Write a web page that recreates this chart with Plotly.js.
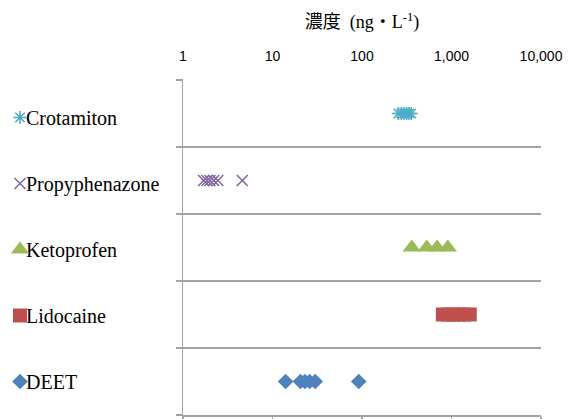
<!DOCTYPE html>
<html>
<head>
<meta charset="utf-8">
<script src="https://cdn.plot.ly/plotly-3.0.1.min.js"></script>
<style>
  html, body { margin: 0; padding: 0; background: #ffffff; }
  #chart { width: 569px; height: 419px; }
</style>
</head>
<body>
<div id="chart"></div>
<script>
// Compounds, top to bottom
const categories = ['Crotamiton', 'Propyphenazone', 'Ketoprofen', 'Lidocaine', 'DEET'];

// Measured concentrations (ng/L) per compound
const crotamiton = [255, 275, 295, 315, 335, 355];
const propyphenazone = [1.7, 1.85, 2.0, 2.2, 2.45, 4.6];
const ketoprofen = [360, 530, 690, 910];
const lidocaine = [800, 920, 1050, 1200, 1380, 1600];
const deet = [14, 20.5, 23, 26, 30, 92];

// Concentration axis ticks
const tickVals = [1, 10, 100, 1000, 10000];
const tickText = ['1', '10', '100', '1,000', '10,000'];

const seriesValues = [crotamiton, propyphenazone, ketoprofen, lidocaine, deet];

const markerStyles = [
  { symbol: 'asterisk-open', size: 11, color: '#4BACC6', line: { color: '#4BACC6', width: 1.5 } },
  { symbol: 'x-thin-open', size: 11, color: '#8064A2', line: { color: '#8064A2', width: 1.5 } },
  { symbol: 'triangle-up', size: 16, color: '#9BBB59', line: { width: 0 } },
  { symbol: 'square', size: 14, color: '#C0504D', line: { width: 0 } },
  { symbol: 'diamond', size: 12, color: '#4F81BD', line: { width: 0 } }
];

const traces = categories.map((name, i) => ({
  type: 'scatter',
  mode: 'markers',
  name: name,
  legendgroup: name,
  x: seriesValues[i],
  y: seriesValues[i].map(() => name),
  marker: markerStyles[i],
  hoverinfo: 'x+name'
}));

// Invisible carrier for the top tick labels
traces.push({
  type: 'scatter',
  mode: 'markers',
  x: [tickVals[0]],
  y: [categories[0]],
  xaxis: 'x2',
  marker: { opacity: 0 },
  showlegend: false,
  hoverinfo: 'skip'
});

const gray = '#a3a3a3';

const layout = {
  width: 569,
  height: 419,
  margin: { l: 183, r: 28, t: 79, b: 4 },
  paper_bgcolor: '#ffffff',
  plot_bgcolor: '#ffffff',
  showlegend: true,
  title: {
    text: '濃度  (ng・L<sup>-1</sup>)',
    font: { family: 'Liberation Serif, "Noto Sans CJK JP", serif', size: 18, color: '#000000' },
    xref: 'paper', x: 0.5, xanchor: 'center',
    yref: 'container', y: 1 - 22 / 419, yanchor: 'middle'
  },
  xaxis: {
    type: 'log',
    range: [0, 4],
    side: 'bottom',
    tickvals: tickVals,
    ticktext: tickText,
    showticklabels: false,
    showgrid: false,
    zeroline: false,
    showline: true,
    linecolor: gray,
    linewidth: 1.5,
    ticks: 'outside',
    ticklen: 5,
    tickwidth: 1.5,
    tickcolor: gray
  },
  xaxis2: {
    type: 'log',
    range: [0, 4],
    overlaying: 'x',
    side: 'top',
    tickvals: tickVals,
    ticktext: tickText,
    showgrid: false,
    zeroline: false,
    showline: false,
    ticks: '',
    ticklabelstandoff: 14,
    tickfont: { family: 'Liberation Sans, Arial, sans-serif', size: 14, color: '#000000' }
  },
  yaxis: {
    type: 'category',
    categoryorder: 'array',
    categoryarray: categories.slice().reverse(),
    // a hair above the last boundary so its grid line stays drawn
    range: [-0.5, 4.515],
    tickson: 'boundaries',
    showticklabels: false,
    showgrid: true,
    gridcolor: gray,
    gridwidth: 1.5,
    zeroline: false,
    showline: true,
    linecolor: gray,
    linewidth: 1.5,
    ticks: 'outside',
    ticklen: 6,
    tickwidth: 1.5,
    tickcolor: gray
  },
  legend: {
    xref: 'container', x: 0,
    yref: 'container', y: 1 - 98 / 419,
    xanchor: 'left', yanchor: 'top',
    traceorder: 'grouped',
    tracegroupgap: 37,
    maxheight: 419,
    font: { family: 'Liberation Serif, "Times New Roman", serif', size: 20, color: '#000000' },
    bgcolor: 'rgba(0,0,0,0)',
    borderwidth: 0
  }
};

Plotly.newPlot('chart', traces, layout, { displayModeBar: false, staticPlot: true }).then(gd => {
  // Pull the legend labels in close to their symbols
  gd.querySelectorAll('.legend text.legendtext').forEach(t => {
    t.setAttribute('x', 26);
  });
});
</script>
</body>
</html>
